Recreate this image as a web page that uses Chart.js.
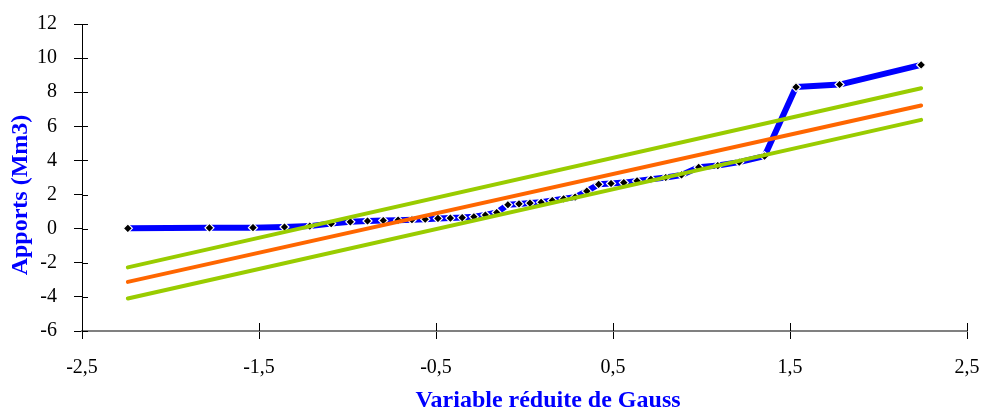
<!DOCTYPE html>
<html>
<head>
<meta charset="utf-8">
<script src="https://cdn.jsdelivr.net/npm/chart.js@4/dist/chart.umd.min.js"></script>
<style>
html,body{margin:0;padding:0;background:#fff;}
#wrap{width:988px;height:414px;position:relative;}
</style>
</head>
<body>
<div id="wrap"><canvas id="c" width="988" height="414"></canvas></div>
<script>
// Gauss reduced variable (plotting positions) for each observation
const gaussX = [-2.241,-1.780,-1.534,-1.356,-1.213,-1.092,-0.984,-0.887,-0.798,-0.714,
  -0.636,-0.561,-0.489,-0.419,-0.352,-0.286,-0.221,-0.157,-0.094,-0.031,
  0.031,0.094,0.157,0.221,0.286,0.352,0.419,0.489,0.561,0.636,
  0.714,0.798,0.887,0.984,1.092,1.213,1.356,1.534,1.780,2.241];
// Observed inflows (Mm3)
const apports = [0.02,0.05,0.06,0.10,0.15,0.30,0.40,0.45,0.48,0.50,
  0.52,0.55,0.60,0.62,0.65,0.70,0.80,0.95,1.40,1.45,
  1.50,1.55,1.65,1.75,1.85,2.20,2.60,2.65,2.70,2.80,
  2.90,3.00,3.15,3.60,3.70,3.90,4.25,8.30,8.45,9.60];
// Fitted Gauss law and confidence bounds (end points)
const lineX = [-2.241, 2.241];
const ajustement = [-3.12, 7.22];
const borneSup = [-2.27, 8.23];
const borneInf = [-4.09, 6.38];
const xTicks = [-2.5,-1.5,-0.5,0.5,1.5,2.5];
const yTicks = [-6,-4,-2,0,2,4,6,8,10,12];
const xTitle = 'Variable réduite de Gauss';
const yTitle = 'Apports (Mm3)';

const pts = (xs, ys) => xs.map((x, i) => ({x: x, y: ys[i]}));

const axisPlugin = {
  id: 'axisExtras',
  afterDraw(chart) {
    const ctx = chart.ctx;
    const xs = chart.scales.x, ys = chart.scales.y;
    const a = chart.chartArea;
    ctx.save();
    ctx.strokeStyle = '#000';
    ctx.lineWidth = 1;
    ctx.beginPath();
    xTicks.forEach(v => { const px = Math.round(xs.getPixelForValue(v)) + 0.5; ctx.moveTo(px, a.bottom); ctx.lineTo(px, a.bottom - 8); });
    yTicks.forEach(v => { const py = Math.round(ys.getPixelForValue(v)) + 0.5; ctx.moveTo(a.left, py); ctx.lineTo(a.left + 6, py); });
    ctx.stroke();
    ctx.fillStyle = '#0000FF';
    ctx.font = 'bold 24px "Liberation Serif", "Times New Roman", serif';
    ctx.textAlign = 'center';
    ctx.textBaseline = 'middle';
    ctx.fillText(xTitle, 548, 401);
    ctx.translate(21, 195);
    ctx.rotate(-Math.PI / 2);
    ctx.fillText(yTitle, 0, 0);
    ctx.restore();
  }
};

new Chart(document.getElementById('c'), {
  type: 'scatter',
  data: {
    datasets: [
      {label: 'Borne sup', data: pts(lineX, borneSup), showLine: true, borderColor: '#99CC00', borderWidth: 4, pointRadius: 0, borderCapStyle: 'round'},
      {label: 'Ajustement', data: pts(lineX, ajustement), showLine: true, borderColor: '#FF6600', borderWidth: 4, pointRadius: 0, borderCapStyle: 'round'},
      {label: 'Borne inf', data: pts(lineX, borneInf), showLine: true, borderColor: '#99CC00', borderWidth: 4, pointRadius: 0, borderCapStyle: 'round'},
      {label: 'Apports', data: pts(gaussX, apports), showLine: true, borderColor: '#0000FF', borderWidth: 6,
       borderJoinStyle: 'round', pointStyle: 'rectRot', pointRadius: 4.5, pointBackgroundColor: '#000', pointBorderColor: '#fff', pointBorderWidth: 1.2}
    ]
  },
  options: {
    responsive: false,
    animation: false,
    events: [],
    layout: {padding: {left: 0, right: 21, top: 24, bottom: 0}},
    plugins: {legend: {display: false}, tooltip: {enabled: false}},
    scales: {
      x: {
        type: 'linear', min: -2.5, max: 2.5,
        afterBuildTicks: s => { s.ticks = xTicks.map(v => ({value: v})); },
        afterFit: s => { s.height = 83; s.paddingLeft = 0; s.paddingRight = 0; },
        ticks: {color: '#000', font: {family: '"Liberation Serif", "Times New Roman", serif', size: 20}, padding: 17,
          callback: v => v.toFixed(1).replace('.', ','), maxRotation: 0, autoSkip: false},
        grid: {drawOnChartArea: false, tickLength: 8, color: '#000'},
        border: {color: '#808080', width: 2}
      },
      y: {
        type: 'linear', min: -6, max: 12,
        afterBuildTicks: s => { s.ticks = yTicks.map(v => ({value: v})); },
        afterFit: s => { s.width = 82; s.paddingTop = 0; s.paddingBottom = 0; },
        ticks: {color: '#000', font: {family: '"Liberation Serif", "Times New Roman", serif', size: 20}, padding: 17,
          callback: v => String(v)},
        grid: {drawOnChartArea: false, tickLength: 8, color: '#000'},
        border: {color: '#000', width: 1}
      }
    }
  },
  plugins: [axisPlugin]
});
</script>
</body>
</html>
